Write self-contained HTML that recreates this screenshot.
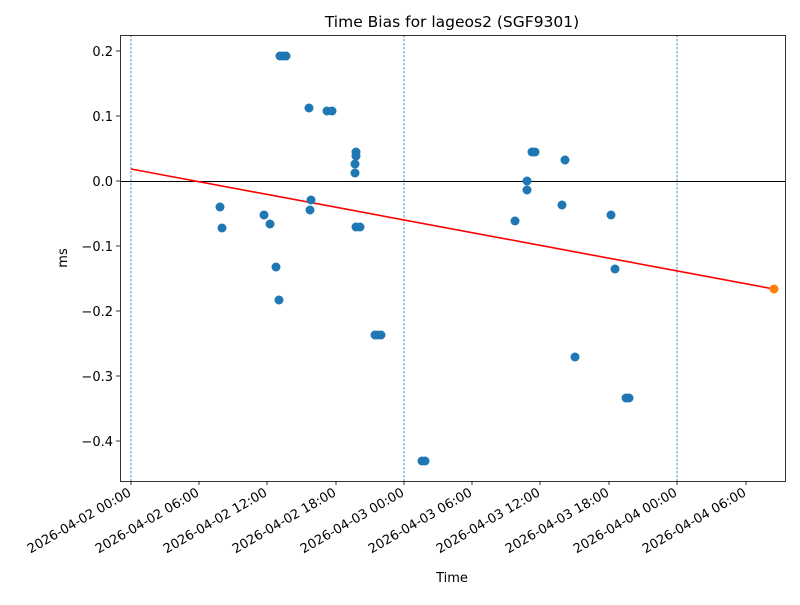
<!DOCTYPE html>
<html><head><meta charset="utf-8"><style>body{margin:0;background:#fff}</style></head>
<body>
<svg width="800" height="600" xmlns="http://www.w3.org/2000/svg" font-family="DejaVu Sans, Liberation Sans, sans-serif" font-size="13">
<rect width="800" height="600" fill="#fff"/>
<g stroke="#1f77b4" stroke-width="0.8" stroke-dasharray="2.5,1.5">
<line x1="131" y1="35" x2="131" y2="481"/>
<line x1="404" y1="35" x2="404" y2="481"/>
<line x1="677" y1="35" x2="677" y2="481"/>
</g>
<line x1="120" y1="181.5" x2="785" y2="181.5" stroke="#000" stroke-width="1"/>
<line x1="131" y1="169" x2="774" y2="289" stroke="red" stroke-width="1.6"/>
<g fill="#1f77b4">
<circle cx="220" cy="207" r="4.5"/><circle cx="222" cy="228" r="4.5"/><circle cx="264" cy="215" r="4.5"/><circle cx="270" cy="224" r="4.5"/>
<circle cx="276" cy="267" r="4.5"/><circle cx="279" cy="300" r="4.5"/><circle cx="280" cy="56" r="4.5"/><circle cx="283" cy="56" r="4.5"/><circle cx="286" cy="56" r="4.5"/>
<circle cx="309" cy="108" r="4.5"/><circle cx="311" cy="200" r="4.5"/><circle cx="310" cy="210" r="4.5"/><circle cx="327" cy="111" r="4.5"/><circle cx="332" cy="111" r="4.5"/>
<circle cx="356" cy="152" r="4.5"/><circle cx="356" cy="156" r="4.5"/><circle cx="355" cy="164" r="4.5"/><circle cx="355" cy="173" r="4.5"/>
<circle cx="356" cy="227" r="4.5"/><circle cx="360" cy="227" r="4.5"/><circle cx="375" cy="335" r="4.5"/><circle cx="378" cy="335" r="4.5"/><circle cx="381" cy="335" r="4.5"/>
<circle cx="422" cy="461" r="4.5"/><circle cx="425" cy="461" r="4.5"/><circle cx="515" cy="221" r="4.5"/><circle cx="527" cy="181" r="4.5"/><circle cx="527" cy="190" r="4.5"/>
<circle cx="532" cy="152" r="4.5"/><circle cx="535" cy="152" r="4.5"/><circle cx="562" cy="205" r="4.5"/><circle cx="565" cy="160" r="4.5"/><circle cx="575" cy="357" r="4.5"/>
<circle cx="611" cy="215" r="4.5"/><circle cx="615" cy="269" r="4.5"/><circle cx="626" cy="398" r="4.5"/><circle cx="629" cy="398" r="4.5"/>
</g>
<circle cx="774" cy="289" r="4.5" fill="#ff7f0e"/>
<rect x="120.5" y="35.5" width="665" height="446" fill="none" stroke="#000" stroke-width="0.8"/>
<g stroke="#000" stroke-width="0.8">
<line x1="116" y1="51" x2="120" y2="51"/><line x1="116" y1="116" x2="120" y2="116"/><line x1="116" y1="181" x2="120" y2="181"/><line x1="116" y1="246" x2="120" y2="246"/><line x1="116" y1="311" x2="120" y2="311"/><line x1="116" y1="376" x2="120" y2="376"/><line x1="116" y1="441" x2="120" y2="441"/>
<line x1="131" y1="481" x2="131" y2="485"/><line x1="199" y1="481" x2="199" y2="485"/><line x1="267" y1="481" x2="267" y2="485"/><line x1="336" y1="481" x2="336" y2="485"/><line x1="404" y1="481" x2="404" y2="485"/><line x1="472" y1="481" x2="472" y2="485"/><line x1="540" y1="481" x2="540" y2="485"/><line x1="609" y1="481" x2="609" y2="485"/><line x1="677" y1="481" x2="677" y2="485"/><line x1="746" y1="481" x2="746" y2="485"/>
</g>
<g text-anchor="end">
<text x="113" y="56">0.2</text><text x="113" y="121">0.1</text><text x="113" y="186">0.0</text><text x="113" y="251">−0.1</text><text x="113" y="316">−0.2</text><text x="113" y="381">−0.3</text><text x="113" y="446">−0.4</text>
<text transform="translate(132,495) rotate(-30)">2026-04-02 00:00</text>
<text transform="translate(200,495) rotate(-30)">2026-04-02 06:00</text>
<text transform="translate(268,495) rotate(-30)">2026-04-02 12:00</text>
<text transform="translate(337,495) rotate(-30)">2026-04-02 18:00</text>
<text transform="translate(405,495) rotate(-30)">2026-04-03 00:00</text>
<text transform="translate(473,495) rotate(-30)">2026-04-03 06:00</text>
<text transform="translate(541,495) rotate(-30)">2026-04-03 12:00</text>
<text transform="translate(610,495) rotate(-30)">2026-04-03 18:00</text>
<text transform="translate(678,495) rotate(-30)">2026-04-04 00:00</text>
<text transform="translate(747,495) rotate(-30)">2026-04-04 06:00</text>
</g>
<text x="452" y="582" text-anchor="middle">Time</text>
<text transform="translate(67,258) rotate(-90)" text-anchor="middle">ms</text>
<text x="452" y="27" text-anchor="middle" font-size="15.5">Time Bias for lageos2 (SGF9301)</text>
</svg>
</body></html>
